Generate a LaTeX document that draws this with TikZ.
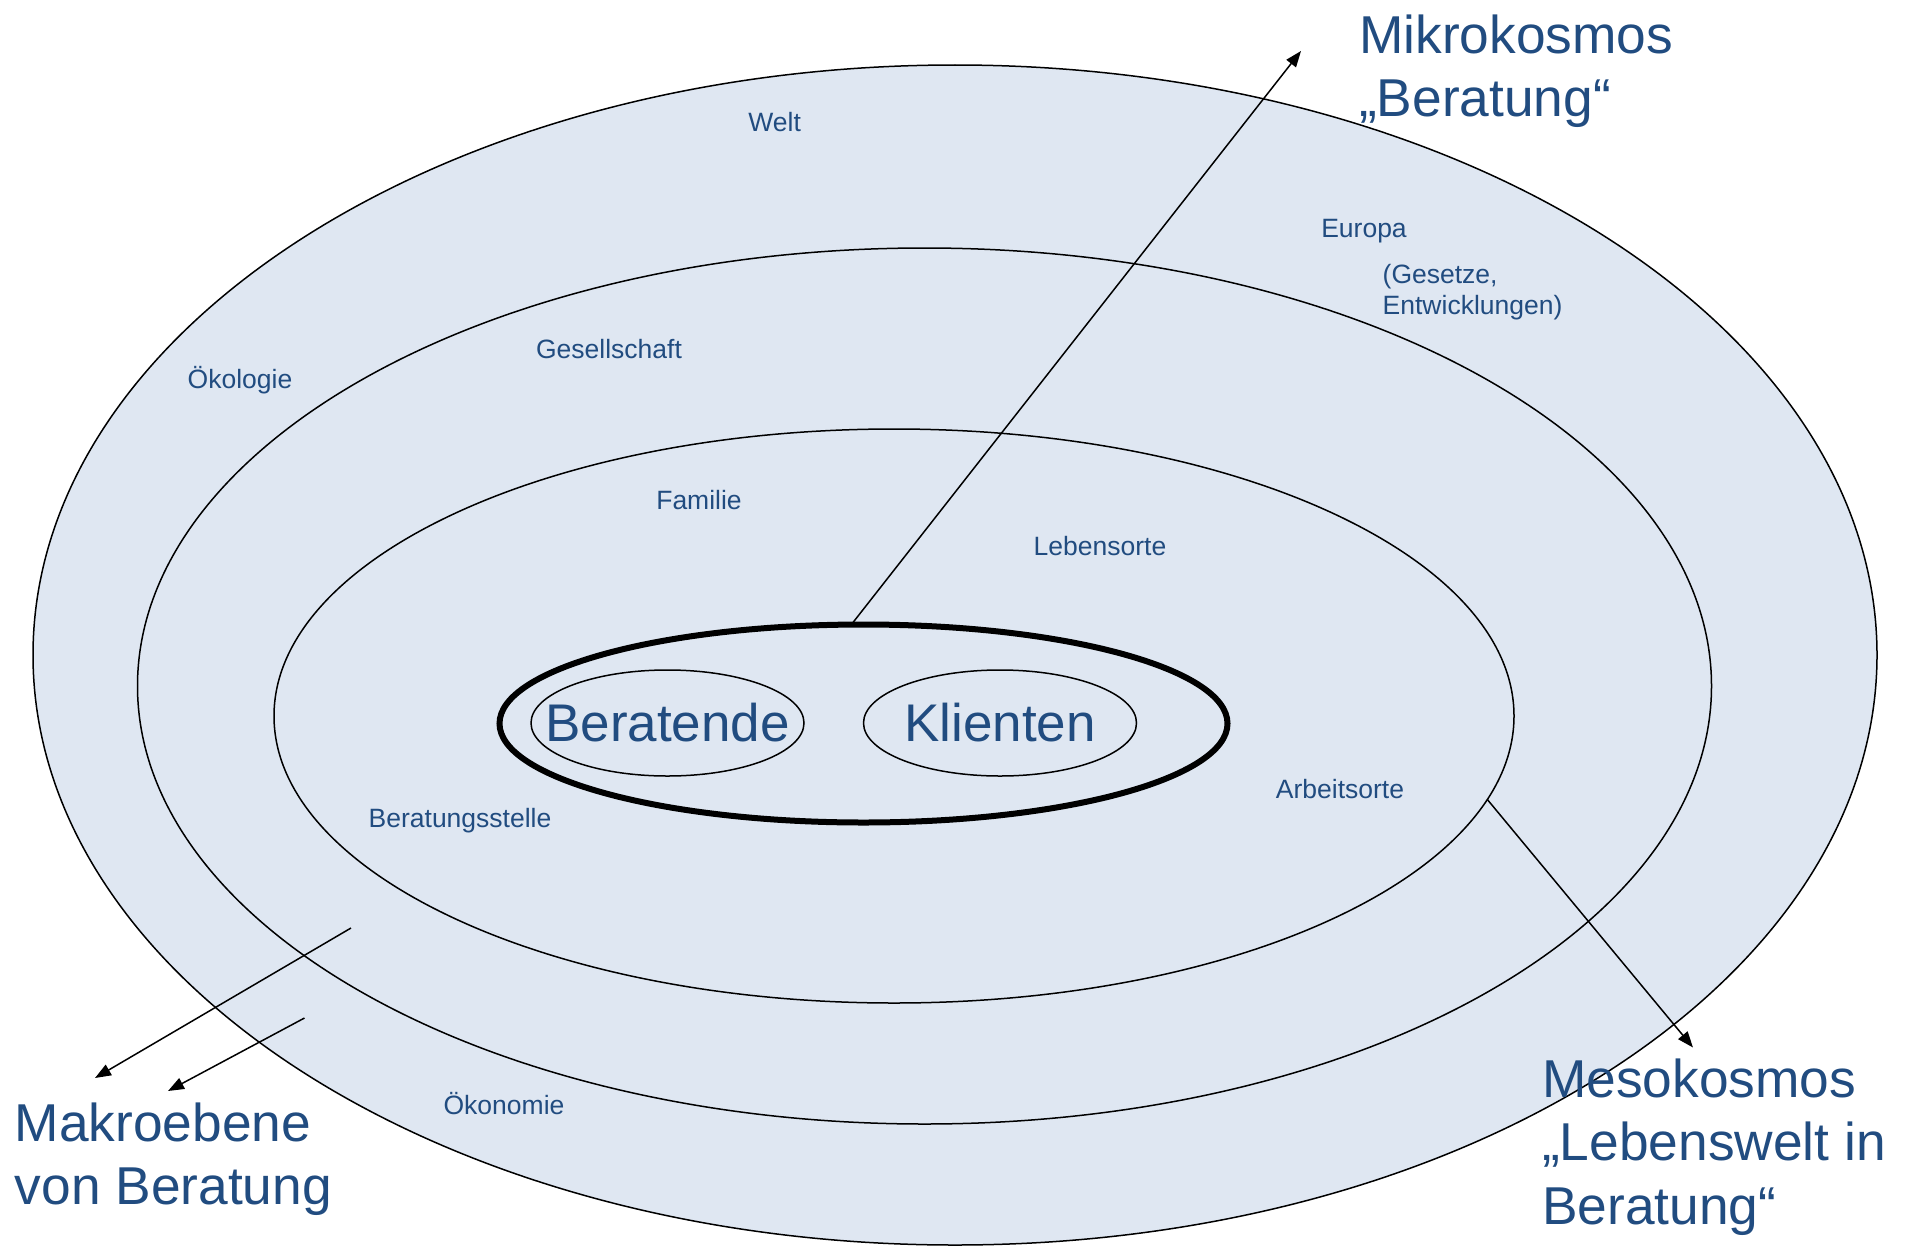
\documentclass[tikz,border=0pt]{standalone}
\usepackage{fontspec}
\setmainfont{Liberation Sans}
\usetikzlibrary{shapes.geometric,arrows.meta}
\definecolor{txtblue}{RGB}{33,76,128}
\definecolor{ringfill}{RGB}{223,231,242}
\begin{document}
\begin{tikzpicture}[x=1pt,y=-1pt,
  ring/.style={ellipse, draw=black, line width=1.5pt, fill=ringfill, inner sep=0pt, outer sep=0pt},
  small/.style={font=\fontsize{26.5}{30.5}\selectfont, text=txtblue, inner sep=0pt},
  centre/.style={font=\fontsize{53}{60}\selectfont, text=txtblue, inner sep=0pt},
  big/.style={font=\fontsize{53.3}{63.5}\selectfont, text=txtblue, inner sep=0pt, align=left},
  arr/.style={line width=1.5pt, -{Triangle[length=16pt,width=12pt]}}]
\useasboundingbox (0,0) rectangle (1910,1247);
% rings
\node[ring, minimum width=1844pt, minimum height=1180pt] (welt) at (955,655) {};
\node[ring, minimum width=1574pt, minimum height=876pt] (ges) at (924.5,686) {};
\node[ring, minimum width=1240pt, minimum height=574pt] (fam) at (894,716) {};
\node[ring, line width=6pt, minimum width=728pt, minimum height=198pt] (mikro) at (863.5,723.5) {};
\node[ring, minimum width=273pt, minimum height=106pt] (ber) at (667.5,723) {};
\node[ring, minimum width=273pt, minimum height=106pt] (kli) at (1000,723) {};
\node[centre] (lBer) at (ber.center) {Beratende};
\node[centre] (lKli) at (kli.center) {Klienten};
% small labels
\node[small, anchor=base] (lWelt) at (774.7,131.3) {Welt};
\node[small, anchor=base] (lEuropa) at (1364,237.3) {Europa};
\node[small, anchor=base west, align=left] (lGesetze) at (1382.5,314) {(Gesetze,\\Entwicklungen)};
\node[small, anchor=base] (lOeko) at (240,388) {Ökologie};
\node[small, anchor=base] (lGes) at (609,358) {Gesellschaft};
\node[small, anchor=base] (lFam) at (699,509) {Familie};
\node[small, anchor=base] (lLeb) at (1100,555) {Lebensorte};
\node[small, anchor=base] (lArb) at (1340,798) {Arbeitsorte};
\node[small, anchor=base] (lBst) at (460,827) {Beratungsstelle};
\node[small, anchor=base] (lOekon) at (504,1114) {Ökonomie};
% big labels (base anchor = last line's baseline)
\node[big, anchor=base west] (lMikro) at (1359,116.5) {Mikrokosmos\\„Beratung“};
\node[big, anchor=base west] (lMeso) at (1542,1224) {Mesokosmos\\„Lebenswelt in\\Beratung“};
\node[big, anchor=base west] (lMakro) at (14.6,1204.5) {Makroebene\\von Beratung};
% connectors
\coordinate (mikroEnd) at (1301,51);
\coordinate (mesoEnd) at (1693,1047.5);
\coordinate (makroA) at (351,928);
\coordinate (makroAEnd) at (95,1078);
\coordinate (makroB) at (304.5,1018);
\coordinate (makroBEnd) at (168,1091);
\draw[arr] (mikro.97) -- (mikroEnd);
\draw[arr] (fam.-8.5) -- (mesoEnd);
\draw[arr] (makroA) -- (makroAEnd);
\draw[arr] (makroB) -- (makroBEnd);
\end{tikzpicture}
\end{document}
